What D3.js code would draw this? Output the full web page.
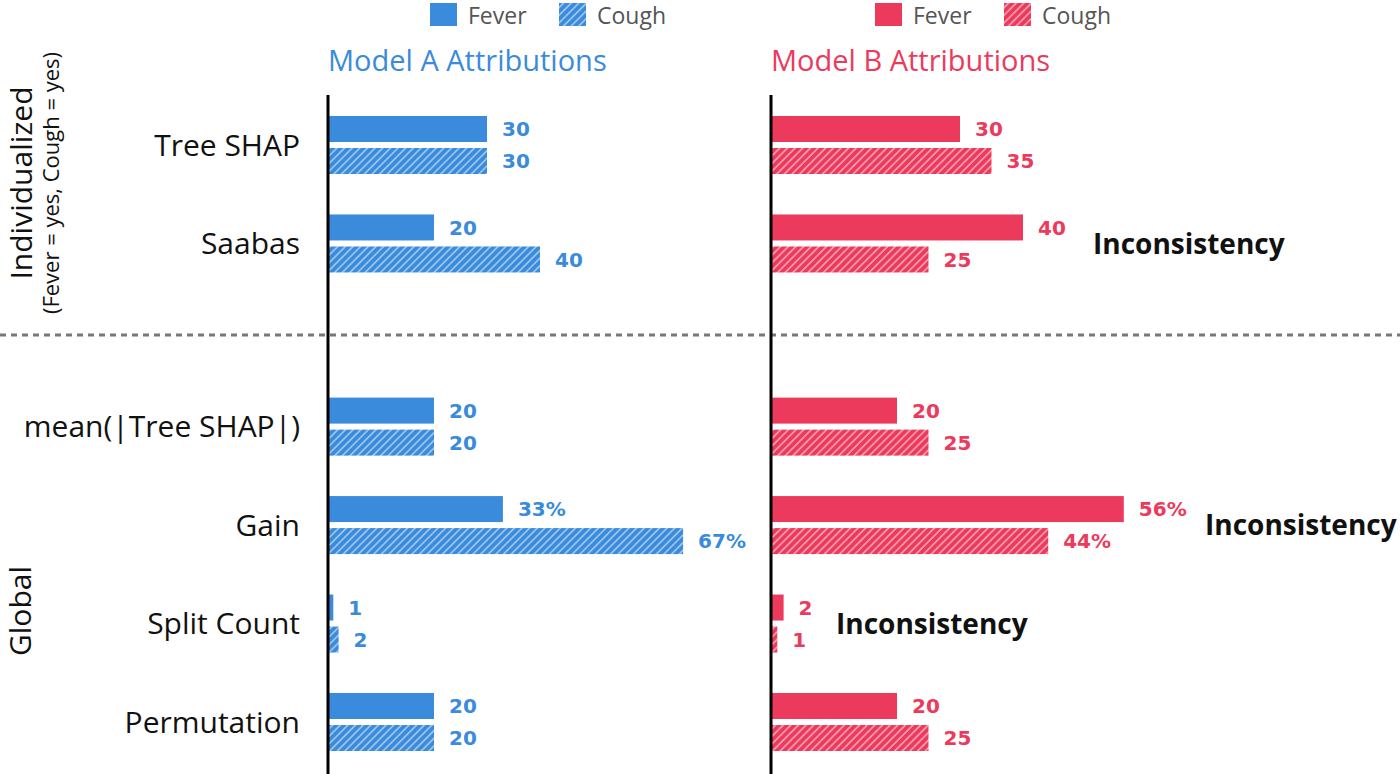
<!DOCTYPE html>
<html>
<head>
<meta charset="utf-8">
<script src="https://cdn.jsdelivr.net/npm/d3@7"></script>
<style>
  body { margin: 0; background: #fff; }
  svg { display: block; }
</style>
</head>
<body>
<svg id="chart" width="1400" height="774"></svg>
<script>
// data
const methods = ["Tree SHAP", "Saabas", "mean(|Tree SHAP|)", "Gain", "Split Count", "Permutation"];
const groups = ["Individualized", "Individualized", "Global", "Global", "Global", "Global"];
const suffixes = ["", "", "", "%", "", ""];
const modelAFever = [30, 20, 20, 33, 1, 20];
const modelACough = [30, 40, 20, 67, 2, 20];
const modelBFever = [30, 40, 20, 56, 2, 20];
const modelBCough = [35, 25, 25, 44, 1, 25];
const modelBInconsistent = [false, true, false, true, true, false];
// where the "Inconsistency" notes start (annotation layout)
const noteX = [0, 1093, 0, 1205, 836, 0];

const blue = "#3a8bdb";
const red = "#ec3a5d";
const labelFont = "'Open Sans', 'Noto Sans', sans-serif";
const valueFont = "'DejaVu Sans', sans-serif";

const svg = d3.select("#chart");

// hatch patterns
const defs = svg.append("defs");
function hatch(id, color) {
  const w = 5.4;
  const p = defs.append("pattern")
    .attr("id", id)
    .attr("patternUnits", "userSpaceOnUse")
    .attr("width", w).attr("height", w)
    .attr("patternTransform", "rotate(45)");
  p.append("rect").attr("width", w).attr("height", w).attr("fill", color);
  p.append("line")
    .attr("x1", w / 2).attr("x2", w / 2).attr("y1", 0).attr("y2", w)
    .attr("stroke", "#fff").attr("stroke-opacity", 0.5).attr("stroke-width", 1.7);
}
hatch("hatchA", blue);
hatch("hatchB", red);

// vertical layout: global group sits a bit lower than a plain row step
const gap = 0.86;
const rowPos = methods.map((m, i) => i + (groups[i] === "Global" ? gap : 0));
const y = d3.scaleLinear().domain([0, 5 + gap]).range([145, 722]);
const barH = 26;

const panels = [
  {title: "Model A Attributions", color: blue, hatch: "url(#hatchA)", x0: 328,
   scale: d3.scaleLinear().domain([0, 10]).range([328, 381]),
   fever: modelAFever, cough: modelACough, legendX: 430, flags: methods.map(() => false)},
  {title: "Model B Attributions", color: red, hatch: "url(#hatchB)", x0: 771,
   scale: d3.scaleLinear().domain([0, 10]).range([771, 834]),
   fever: modelBFever, cough: modelBCough, legendX: 875, flags: modelBInconsistent}
];

// dashed separator between groups
svg.append("line")
  .attr("x1", 0).attr("x2", 1400)
  .attr("y1", 335).attr("y2", 335)
  .attr("stroke", "#777").attr("stroke-width", 3)
  .attr("stroke-dasharray", "6,5");

panels.forEach(p => {
  const g = svg.append("g");

  // legend
  const leg = g.append("g").attr("transform", `translate(${p.legendX},3)`);
  leg.append("rect").attr("width", 27).attr("height", 23).attr("fill", p.color);
  leg.append("text").attr("x", 38).attr("y", 21).text("Fever")
    .attr("font-family", labelFont).attr("font-size", 23).attr("fill", "#555");
  leg.append("rect").attr("x", 129).attr("width", 27).attr("height", 23).attr("fill", p.hatch);
  leg.append("text").attr("x", 167).attr("y", 21).text("Cough")
    .attr("font-family", labelFont).attr("font-size", 23).attr("fill", "#555");

  // title
  g.append("text").attr("x", p.x0).attr("y", 71).text(p.title)
    .attr("font-family", labelFont).attr("font-size", 29).attr("fill", p.color);

  const rows = methods.map((m, i) => ({
    i, c: y(rowPos[i]), fever: p.fever[i], cough: p.cough[i], suffix: suffixes[i], flag: p.flags[i]
  }));

  const bars = [];
  rows.forEach(r => {
    bars.push({v: r.fever, top: r.c - 29, fill: p.color, suffix: r.suffix});
    bars.push({v: r.cough, top: r.c + 3, fill: p.hatch, suffix: r.suffix});
  });

  g.selectAll("rect.bar").data(bars).join("rect")
    .attr("class", "bar")
    .attr("x", p.x0)
    .attr("y", d => d.top)
    .attr("width", d => p.scale(d.v) - p.x0)
    .attr("height", barH)
    .attr("fill", d => d.fill);

  g.selectAll("text.val").data(bars).join("text")
    .attr("class", "val")
    .attr("x", d => p.scale(d.v) + 15)
    .attr("y", d => d.top + barH / 2)
    .attr("dy", "0.36em")
    .attr("font-family", valueFont).attr("font-weight", "bold").attr("font-size", 20)
    .attr("fill", p.color)
    .text(d => d.v + d.suffix);

  // inconsistency notes
  g.selectAll("text.flag").data(rows.filter(r => r.flag)).join("text")
    .attr("class", "flag")
    .attr("x", r => noteX[r.i])
    .attr("y", r => r.c)
    .attr("dy", "0.36em")
    .attr("font-family", labelFont).attr("font-weight", "bold").attr("font-size", 28)
    .attr("fill", "#111")
    .text("Inconsistency");

  // axis line
  g.append("line")
    .attr("x1", p.x0).attr("x2", p.x0).attr("y1", 95).attr("y2", 774)
    .attr("stroke", "#000").attr("stroke-width", 3);
});

// method labels
svg.selectAll("text.method").data(methods).join("text")
  .attr("class", "method")
  .attr("x", 300)
  .attr("y", (m, i) => y(rowPos[i]))
  .attr("dy", "0.36em")
  .attr("text-anchor", "end")
  .attr("font-family", labelFont).attr("font-size", 30).attr("fill", "#111")
  .text(m => m);

// group labels, rotated
const groupLabels = [
  {text: "Individualized", x: 32, y: 183, size: 30},
  {text: "(Fever = yes, Cough = yes)", x: 59, y: 183, size: 22},
  {text: "Global", x: 31, y: 611, size: 30}
];
svg.selectAll("text.group").data(groupLabels).join("text")
  .attr("class", "group")
  .attr("transform", d => `translate(${d.x},${d.y}) rotate(-90)`)
  .attr("text-anchor", "middle")
  .attr("font-family", labelFont).attr("font-size", d => d.size).attr("fill", "#111")
  .text(d => d.text);
</script>
</body>
</html>
